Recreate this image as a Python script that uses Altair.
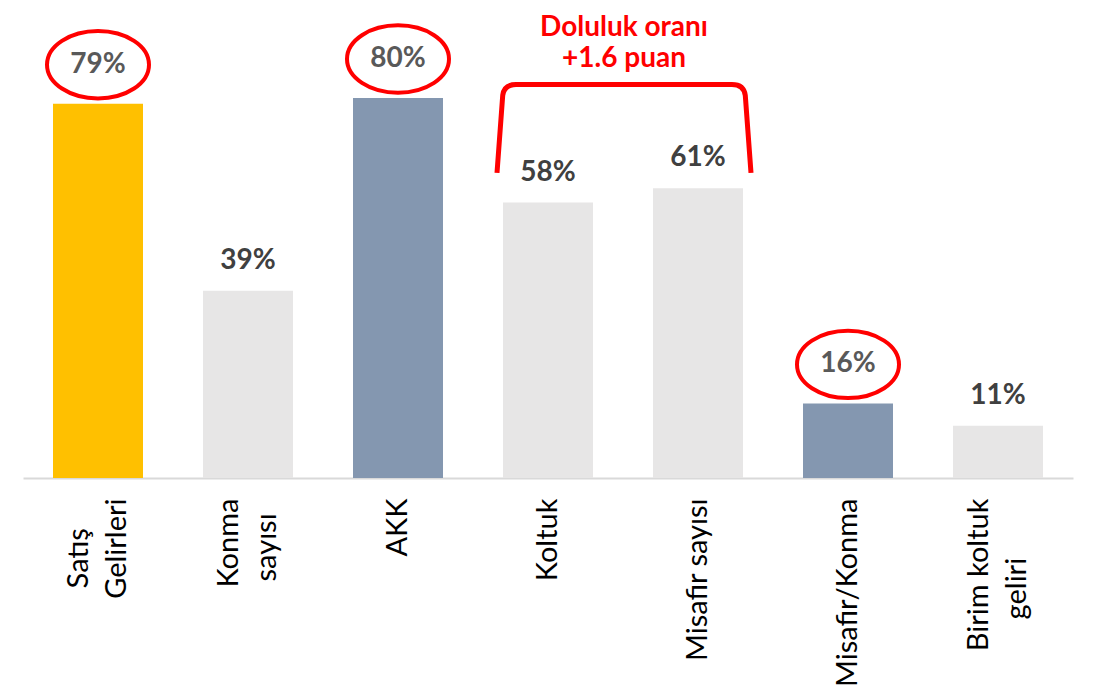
import altair as alt
import pandas as pd

# ---- data ----
categories = ["Satış|Gelirleri", "Konma|sayısı", "AKK", "Koltuk",
              "Misafir sayısı", "Misafir/Konma", "Birim koltuk|geliri"]
values = [78.8, 39.4, 80.0, 58.0, 61.0, 15.7, 11.0]
bar_colors = ["#FFC000", "#E7E6E6", "#8497B0", "#E7E6E6", "#E7E6E6", "#8497B0", "#E7E6E6"]
circled = [True, False, True, False, False, True, False]

annotation_lines = ["Doluluk oranı", "+1.6 puan"]
annotation_levels = [94.7, 88.2]
annotation_anchor = "Koltuk"      # bracket spans Koltuk and Misafir sayısı
bracket_level = 73.6

NB = "\u00a0"
WJ = "\u2060"
# pad shorter line of two-line labels so both lines look centred
label_pad = {"Satış|Gelirleri": ("Satış" + NB * 4 + WJ + "|Gelirleri"),
             "Konma|sayısı": ("Konma|sayısı" + NB * 2 + WJ),
             "Birim koltuk|geliri": ("Birim koltuk|geliri" + NB * 8 + WJ)}

df = pd.DataFrame({"category": categories, "value": values,
                   "color": bar_colors, "circled": circled})
df["display"] = [label_pad.get(c, c) for c in categories]
order = list(df["display"])

anchor = label_pad.get(annotation_anchor, annotation_anchor)
ann = pd.DataFrame({"category": [anchor], "bracket": [bracket_level]})
ann_txt = pd.DataFrame({"category": [anchor] * len(annotation_lines),
                        "text": annotation_lines, "y": annotation_levels})

FONT = "Lato"
YMAX = 97.9

x_scale = alt.Scale(domain=order, paddingInner=0.4, paddingOuter=0.2)
x_enc = alt.X("display:N", sort=order, scale=x_scale,
              axis=alt.Axis(title=None, labelAngle=270, labelAlign="right",
                            labelBaseline="middle",
                            labelExpr="split(datum.label, '|')",
                            labelOffset=alt.condition("indexof(datum.label, '|') >= 0",
                                                      alt.value(-19), alt.value(0)),
                            labelFont=FONT, labelFontSize=29, labelColor="#000000",
                            labelLineHeight=38, labelPadding=20, ticks=False,
                            domainColor="#D9D9D9", domainWidth=2, grid=False,
                            labelOverlap=False, labelLimit=0))
y_scale = alt.Scale(domain=[0, YMAX], nice=False, zero=True)

base = alt.Chart(df).encode(x=x_enc, y=alt.Y("value:Q", scale=y_scale, axis=None))

bars = base.mark_bar().encode(color=alt.Color("color:N", scale=None))

lbl = base.transform_calculate(lab="format(datum.value, '.0f') + '%'")
labels_plain = lbl.transform_filter("!datum.circled").mark_text(
    font=FONT, fontSize=28, fontWeight="bold", color="#404040",
    baseline="middle", dy=-30).encode(text="lab:N")
labels_circ = lbl.transform_filter("datum.circled").mark_text(
    font=FONT, fontSize=28, fontWeight="bold", color="#595959",
    baseline="middle", dy=-39).encode(text="lab:N")

# ellipse outline path (unit width, aspect 0.66)
k = 0.5523
b = 0.66
ellipse = (f"M-1,0 C-1,{-b*k:.4f} {-k:.4f},{-b} 0,{-b} "
           f"C{k:.4f},{-b} 1,{-b*k:.4f} 1,0 "
           f"C1,{b*k:.4f} {k:.4f},{b} 0,{b} "
           f"C{-k:.4f},{b} -1,{b*k:.4f} -1,0 Z")
ellipses = base.transform_filter("datum.circled").mark_point(
    shape=ellipse, size=102 * 102, filled=False, color="#FF0000",
    strokeWidth=4, opacity=1, yOffset=-39)

bracket_path = ("M-1,0.35 L-0.955,-0.26 Q-0.945,-0.346 -0.85,-0.346 "
                "L0.85,-0.346 Q0.945,-0.346 0.955,-0.26 L1,0.35")
bracket = alt.Chart(ann).mark_point(
    shape=bracket_path, size=254 * 254, filled=False, color="#FF0000",
    strokeWidth=5, opacity=1, xOffset=76).encode(
    x=alt.X("category:N", sort=order, scale=x_scale),
    y=alt.Y("bracket:Q", scale=y_scale))
ann_text = alt.Chart(ann_txt).mark_text(
    font=FONT, fontSize=28, fontWeight="bold",
    color="#FF0000", baseline="middle", xOffset=76).encode(
    x=alt.X("category:N", sort=order, scale=x_scale),
    y=alt.Y("y:Q", scale=y_scale),
    text="text:N")

chart = alt.layer(bars, labels_plain, labels_circ, ellipses, bracket, ann_text).properties(
    width=1050, height=465,
    autosize=alt.AutoSizeParams(type="none"),
    padding={"left": 15, "top": 5, "right": 20, "bottom": 208},
    background="white",
).configure_view(stroke=None)

chart.save("out.html", embed_options={"renderer": "svg", "actions": False})
